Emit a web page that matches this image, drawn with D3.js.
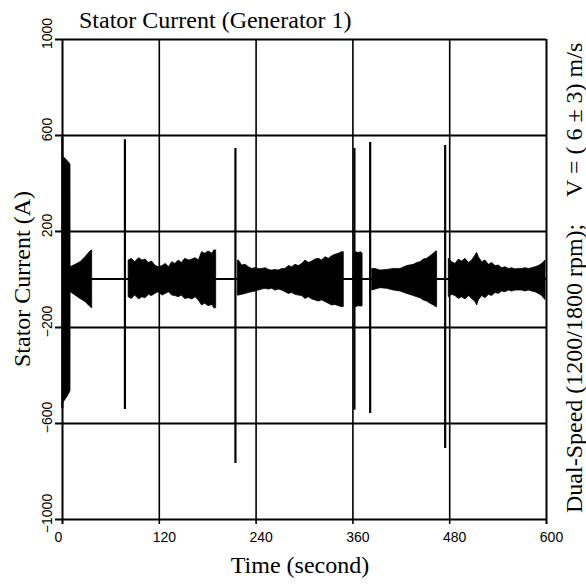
<!DOCTYPE html>
<html>
<head>
<meta charset="utf-8">
<script src="https://cdn.jsdelivr.net/npm/d3@7"></script>
<style>
  body { margin: 0; background: #fff; }
  svg { display: block; }
  .serif { font-family: "Liberation Serif", "Times New Roman", serif; font-size: 24px; fill: #000; }
  .tick text { font-family: "Liberation Sans", Arial, sans-serif; font-size: 14px; fill: #000; }
</style>
</head>
<body>
<div id="chart"></div>
<script>
var xTicks = [0, 120, 240, 360, 480, 600];
var yTicks = [-1000, -600, -200, 200, 600, 1000];

// envelope of the stator current trace: [time, upper, lower]
var burst1 = [[0.6, 510, -516], [3, 505, -505], [6, 495, -490], [8.5, 485, -475], [9.9, 480, -465],
	[10, 51, -53], [16.1, 61, -67], [22.3, 72, -81], [28.5, 93, -94], [34.7, 117, -115], [36.8, 121, -120]];

var burst2 = [[82, 79, -74], [86, 86, -81], [90, 72, -67], [95, 89, -83], [99, 79, -74], [103, 83, -78],
	[107, 69, -64], [111, 75, -69], [115, 58, -60], [119, 51, -53], [124, 56, -67], [128, 65, -60],
	[132, 51, -53], [136, 72, -67], [140, 65, -69], [144, 79, -74], [148, 69, -67], [152, 86, -81],
	[157, 79, -78], [161, 83, -83], [165, 89, -74], [169, 79, -87], [173, 114, -108], [177, 107, -101],
	[181, 117, -111], [186, 107, -106], [188, 121, -120], [190.5, 121, -120]];

var burst3 = [[217.4, 79, -67], [218.6, 79, -67], [222.7, 58, -64], [226.9, 61, -60], [231, 51, -56],
	[235.1, 44, -53], [239.3, 47, -50], [243.4, 44, -46], [247.5, 44, -42], [251.7, 47, -39],
	[255.8, 40, -42], [259.9, 37, -39], [264, 40, -46], [268.2, 37, -42], [272.3, 44, -46],
	[276.4, 44, -53], [280.6, 56, -60], [284.7, 51, -56], [288.8, 61, -64], [293, 56, -67],
	[297.1, 65, -69], [301.2, 79, -81], [305.4, 69, -74], [309.5, 75, -83], [313.6, 83, -87],
	[317.7, 86, -92], [321.9, 79, -87], [326, 93, -94], [330.1, 86, -101], [334.3, 97, -108],
	[338.4, 103, -106], [342.5, 107, -111], [346.7, 114, -115], [348.7, 114, -115]];

var burst4 = [[361, 107, -108], [364, 114, -115], [367, 110, -111], [370, 114, -113], [372, 107, -111]];

var burst5 = [[383.9, 44, -46], [388, 44, -42], [394.2, 37, -36], [402.5, 40, -39], [410.7, 44, -46],
	[419, 44, -50], [427.3, 56, -60], [435.5, 61, -69], [439.7, 69, -74], [443.8, 72, -78],
	[447.9, 83, -87], [452.1, 86, -92], [456.2, 97, -101], [460.3, 107, -108], [463.2, 117, -115],
	[464.4, 117, -115]];

var burst6 = [[478.9, 86, -74], [483, 72, -64], [487.2, 65, -69], [491.3, 83, -81], [495.4, 75, -74],
	[499.6, 86, -83], [503.7, 69, -69], [507.8, 79, -81], [512, 100, -94], [514, 111, -108],
	[516.1, 93, -87], [520.2, 72, -69], [524.4, 79, -78], [528.5, 61, -64], [532.6, 69, -69],
	[536.8, 56, -56], [540.9, 58, -60], [545, 47, -50], [549.2, 51, -53], [553.3, 44, -46],
	[557.4, 47, -50], [561.5, 42, -46], [565.7, 44, -46], [569.8, 44, -46], [573.9, 47, -50],
	[578.1, 44, -46], [582.2, 47, -50], [586.3, 51, -53], [590.5, 56, -60], [594.6, 65, -69],
	[597.5, 75, -81], [598.7, 79, -85]];

var bursts = [burst1, burst2, burst3, burst4, burst5, burst6];

// start-up transients
var spikeTime = [0.4, 78, 215, 362.5, 382, 475];
var spikeMax = [592, 582, 546, 546, 571, 558];
var spikeMin = [-537, -542, -767, -545, -558, -704];

var margin = {top: 39, right: 40, bottom: 67, left: 62},
	width = 586 - margin.left - margin.right,
	height = 586 - margin.top - margin.bottom;

var x = d3.scaleLinear().domain([0, 600]).range([0, width]);
var y = d3.scaleLinear().domain([-1000, 1000]).range([height, 0]);

var svg = d3.select("#chart").append("svg")
	.attr("width", 586)
	.attr("height", 586);

var g = svg.append("g")
	.attr("transform", "translate(" + margin.left + "," + margin.top + ")");

// horizontal grid + frame, sticking out 7px on the left
var yAxis = d3.axisLeft(y)
	.tickValues(yTicks)
	.tickSizeInner(-(width + 7))
	.tickSizeOuter(0)
	.tickFormat(d3.format("d"));

var yg = g.append("g")
	.attr("transform", "translate(-7,0)")
	.call(yAxis);
yg.select(".domain").remove();
yg.selectAll(".tick line").attr("stroke", "#000").attr("stroke-width", 2);
yg.selectAll(".tick text")
	.attr("transform", "rotate(-90)")
	.attr("text-anchor", "middle")
	.attr("x", 6)
	.attr("y", -3)
	.attr("dy", null);

// vertical grid + frame, sticking out 5px below
var xAxis = d3.axisBottom(x)
	.tickValues(xTicks)
	.tickSizeInner(-(height + 5))
	.tickSizeOuter(0);

var xg = g.append("g")
	.attr("transform", "translate(0," + (height + 5) + ")")
	.call(xAxis);
xg.select(".domain").remove();
xg.selectAll(".tick line").attr("stroke", "#000").attr("stroke-width", function(d) {
	return (d === 0 || d === 600) ? 2 : 1.6;
});
xg.selectAll(".tick text")
	.attr("y", 18)
	.attr("dy", null)
	.attr("dx", function(d) { return d === 0 ? -4 : 5; });

// flat zero line visible between the bursts
g.append("line")
	.attr("x1", x(0)).attr("x2", x(600))
	.attr("y1", y(0)).attr("y2", y(0))
	.attr("stroke", "#000").attr("stroke-width", 2);

var area = d3.area()
	.x(function(d) { return x(d[0]); })
	.y0(function(d) { return y(d[2]); })
	.y1(function(d) { return y(d[1]); });

g.selectAll(".burst")
	.data(bursts)
	.enter().append("path")
	.attr("class", "burst")
	.attr("d", area)
	.attr("fill", "#000")
	.attr("stroke", "#000")
	.attr("stroke-width", 0.8);

g.selectAll(".spike")
	.data(spikeTime)
	.enter().append("line")
	.attr("class", "spike")
	.attr("x1", function(d) { return x(d); })
	.attr("x2", function(d) { return x(d); })
	.attr("y1", function(d, i) { return y(spikeMax[i]); })
	.attr("y2", function(d, i) { return y(spikeMin[i]); })
	.attr("stroke", "#000")
	.attr("stroke-width", 2.2);

// texts
svg.append("text")
	.attr("class", "serif")
	.attr("x", 79)
	.attr("y", 28)
	.text("Stator Current (Generator 1)");

svg.append("text")
	.attr("class", "serif")
	.attr("text-anchor", "middle")
	.attr("transform", "translate(30,279) rotate(-90)")
	.text("Stator Current (A)");

svg.append("text")
	.attr("class", "serif")
	.attr("text-anchor", "middle")
	.attr("x", 300)
	.attr("y", 573)
	.text("Time (second)");

svg.append("text")
	.attr("class", "serif")
	.attr("transform", "translate(582,513) rotate(-90)")
	.text("Dual-Speed (1200/1800 rpm);");

svg.append("text")
	.attr("class", "serif")
	.attr("transform", "translate(582,197) rotate(-90)")
	.text("V = ( 6 ± 3) m/s");
</script>
</body>
</html>
